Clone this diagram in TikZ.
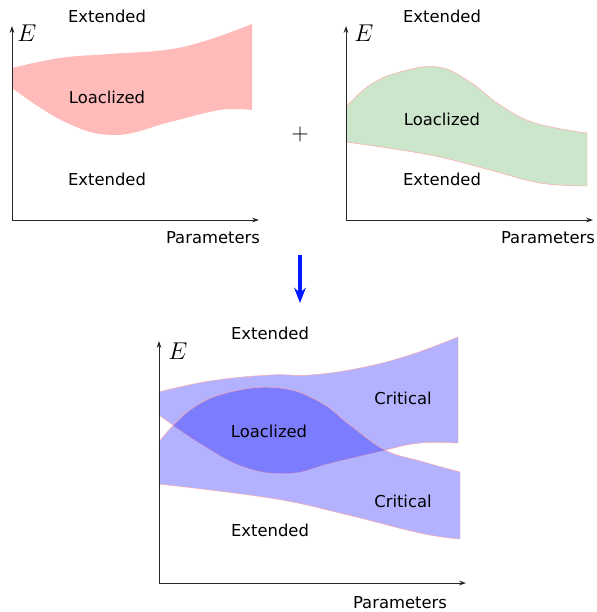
\documentclass[tikz,border=0pt]{standalone}
\usepackage{fontspec}
\setmainfont{DejaVu Sans}
\usepackage{amsmath}
\usetikzlibrary{arrows.meta}

\begin{document}
\begin{tikzpicture}[x=0.03cm, y=-0.03cm,
    axes/.style={line width=.7pt, black!85, {Stealth[length=6pt,width=4pt]}-{Stealth[length=6pt,width=4pt]}},
    lbl/.style={font=\fontsize{14}{16}\selectfont},
    varE/.style={font=\fontsize{20}{22}\selectfont},
    bandline/.style={draw=red!35, line width=.4pt}]
    \useasboundingbox (0,0) rectangle (597,612);
    %left graph: localized band
    \fill[red, opacity=.27] plot[smooth, tension=.7] coordinates {(12,68) (60,58) (110,54) (165,50) (205,41) (252,24)}
        -- plot[smooth, tension=.7] coordinates {(252,110) (220,110) (170,122) (115,135) (65,122) (12,88)} -- cycle;
    \coordinate (yl) at (12,26);
    \coordinate (xl) at (259,220);
    \draw[axes] (yl) |- (xl);
    \node[varE] (El) at (27,33) {$E$};
    \node[lbl] (ext1) at (107,16) {Extended};
    \node[lbl] (loc1) at (107,97) {Loaclized};
    \node[lbl] (ext2) at (107,179) {Extended};
    \node[lbl] (par1) at (213,238) {Parameters};
    %plus
    \node[font=\fontsize{20}{22}\selectfont] (plus) at (300,134) {$+$};
    %right graph: localized band
    \filldraw[bandline, fill=green!50!black, fill opacity=.2] plot[smooth, tension=.7] coordinates {(346,107) (370,85) (400,72) (438,67) (470,82) (500,105) (535,123) (587,133)}
        -- plot[smooth, tension=.7] coordinates {(587,186) (540,183) (490,170) (430,155) (346,142)} -- cycle;
    \coordinate (yr) at (346,26);
    \coordinate (xr) at (593,220);
    \draw[axes] (yr) |- (xr);
    \node[varE] (Er) at (364,33) {$E$};
    \node[lbl] (ext3) at (442,16) {Extended};
    \node[lbl] (loc2) at (442,119) {Loaclized};
    \node[lbl] (ext4) at (442,179) {Extended};
    \node[lbl] (par2) at (548,238) {Parameters};
    %combination arrow
    \coordinate (ctop) at (300,255);
    \coordinate (cbot) at (300,303);
    \draw[blue!90!cyan, line width=2.6pt, -{Stealth[length=13pt,width=10pt]}] (ctop) -- (cbot);
    %bottom graph: two bands
    \filldraw[bandline, fill=blue, fill opacity=.3] plot[smooth, tension=.7] coordinates {(159,392) (210,381) (270,375) (310,375) (360,368) (410,355) (458,337)}
        -- plot[smooth, tension=.7] coordinates {(458,443) (420,443) (385,450) (330,463) (290,473) (245,467) (200,443) (159,415)} -- cycle;
    \filldraw[bandline, fill=blue, fill opacity=.3] plot[smooth, tension=.7] coordinates {(159,442) (190,410) (230,392) (280,388) (320,402) (350,425) (385,450) (420,461) (460,472)}
        -- plot[smooth, tension=.7] coordinates {(460,539) (420,533) (340,513) (270,498) (159,484)} -- cycle;
    \coordinate (yb) at (159,341);
    \coordinate (xb) at (466,583);
    \draw[axes] (yb) |- (xb);
    \node[varE] (Eb) at (178,351) {$E$};
    \node[lbl] (ext5) at (270,333) {Extended};
    \node[lbl] (crit1) at (403,398) {Critical};
    \node[lbl] (loc3) at (269,431) {Loaclized};
    \node[lbl] (crit2) at (403,501) {Critical};
    \node[lbl] (ext6) at (270,530) {Extended};
    \node[lbl] (par3) at (400,603) {Parameters};
\end{tikzpicture}
\end{document}
